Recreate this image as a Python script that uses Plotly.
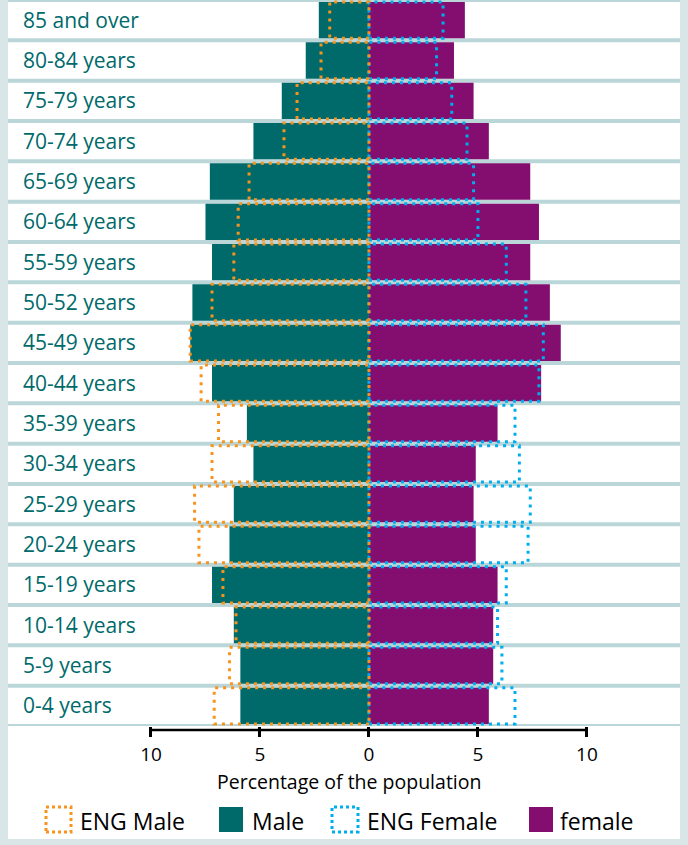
import plotly.graph_objects as go

# age groups, bottom to top
age_groups = ["0-4 years", "5-9 years", "10-14 years", "15-19 years", "20-24 years",
              "25-29 years", "30-34 years", "35-39 years", "40-44 years", "45-49 years",
              "50-52 years", "55-59 years", "60-64 years", "65-69 years", "70-74 years",
              "75-79 years", "80-84 years", "85 and over"]
male = [5.9, 5.9, 6.2, 7.2, 6.4, 6.2, 5.3, 5.6, 7.2, 8.2, 8.1, 7.2, 7.5, 7.3, 5.3, 4.0, 2.9, 2.3]
female = [5.5, 5.7, 5.7, 5.9, 4.9, 4.8, 4.9, 5.9, 7.9, 8.8, 8.3, 7.4, 7.8, 7.4, 5.5, 4.8, 3.9, 4.4]
eng_male = [7.1, 6.4, 6.1, 6.7, 7.8, 8.0, 7.2, 6.9, 7.7, 8.2, 7.2, 6.2, 6.0, 5.5, 3.9, 3.3, 2.2, 1.8]
eng_female = [6.7, 6.1, 5.9, 6.3, 7.3, 7.4, 6.9, 6.7, 7.8, 8.0, 7.2, 6.3, 5.0, 4.8, 4.5, 3.8, 3.1, 3.4]

tick_vals = [-10, -5, 0, 5, 10]
tick_text = ["10", "5", "0", "5", "10"]

TEAL = "#006a6b"
PURPLE = "#830e6f"
ORANGE = "#f7941d"
BLUE = "#00aeef"
GAP = "#bad6d8"
OUTER = "#d8e6e7"
FONT = "Open Sans"

W, H = 688, 845
ML, MR, MT, MB = 8, 8, 0, 119
PW, PH = W - ML - MR, H - MT - MB
X_RANGE = [-16.56, 14.27]
HALF = 0.45


def px_x(p):
    return (p - ML) / PW


def px_y(p):
    return (MT + PH - p) / PH


def outline(values, sign):
    xs, ys = [], []
    for i, v in enumerate(values):
        xs += [0, sign * v, sign * v, 0, 0, None]
        ys += [i - HALF, i - HALF, i + HALF, i + HALF, i - HALF, None]
    return xs, ys


ys = list(range(len(age_groups)))
fig = go.Figure()

fig.add_trace(go.Bar(y=ys, x=[-v for v in male], orientation='h', width=0.9,
                     marker=dict(color=TEAL, line=dict(width=0)), name="Male",
                     customdata=male, hovertemplate="%{customdata}%<extra>Male</extra>"))
fig.add_trace(go.Bar(y=ys, x=female, orientation='h', width=0.9,
                     marker=dict(color=PURPLE, line=dict(width=0)), name="female"))

fx, fy = outline(eng_female, 1)
fig.add_trace(go.Scatter(x=fx, y=fy, mode='lines', name="ENG Female",
                         line=dict(color=BLUE, width=3, dash="3px,5px")))
mx, my = outline(eng_male, -1)
fig.add_trace(go.Scatter(x=mx, y=my, mode='lines', name="ENG Male",
                         line=dict(color=ORANGE, width=3, dash="3px,5px")))

shapes = []
# white panel below the plot area
shapes.append(dict(type='rect', xref='paper', yref='paper', x0=0, x1=1,
                   y0=px_y(839), y1=0, fillcolor='white', line=dict(width=0), layer='below'))
# row separators
for k in range(len(age_groups) + 1):
    shapes.append(dict(type='line', xref='x', yref='y', x0=X_RANGE[0], x1=X_RANGE[1],
                       y0=k - 0.5, y1=k - 0.5, line=dict(color=GAP, width=4), layer='below'))
# axis line between -10 and 10
shapes.append(dict(type='line', xref='x', yref='paper', x0=-10, x1=10,
                   y0=px_y(730), y1=px_y(730), line=dict(color='black', width=2.5)))

# legend drawn by hand (dotted swatches)
legend_items = [
    ("ENG Male", 46, 71, 78, dict(color=ORANGE, width=3, dash='dot'), 'rgba(0,0,0,0)'),
    ("Male", 219, 243, 250, dict(width=0), TEAL),
    ("ENG Female", 332, 358, 365, dict(color=BLUE, width=3, dash='dot'), 'rgba(0,0,0,0)'),
    ("female", 529, 553, 558, dict(width=0), PURPLE),
]
annotations = []
for text, x0, x1, tx, ln, fill in legend_items:
    shapes.append(dict(type='rect', xref='paper', yref='paper', x0=px_x(x0), x1=px_x(x1),
                       y0=px_y(832), y1=px_y(807), line=ln, fillcolor=fill))
    annotations.append(dict(xref='paper', yref='paper', x=px_x(tx), y=px_y(821),
                            xanchor='left', yanchor='middle', text=text, showarrow=False,
                            font=dict(family=FONT, size=23, color='black')))

# axis title
annotations.append(dict(xref='x', yref='paper', x=-0.9, y=px_y(782), xanchor='center',
                        yanchor='middle', text="Percentage of the population", showarrow=False,
                        font=dict(family=FONT, size=19.5, color='black')))

fig.update_layout(
    width=W, height=H, margin=dict(l=ML, r=MR, t=MT, b=MB),
    paper_bgcolor=OUTER, plot_bgcolor='white',
    barmode='overlay', showlegend=False,
    shapes=shapes, annotations=annotations,
    font=dict(family=FONT, color='black'),
)
fig.update_xaxes(range=X_RANGE, tickmode='array', tickvals=tick_vals, ticktext=tick_text,
                 ticks='outside', ticklen=10, tickwidth=2.5, tickcolor='black',
                 showgrid=False, zeroline=False, showline=False,
                 tickfont=dict(family=FONT, size=19, color='black'), ticklabelstandoff=1)
fig.update_yaxes(range=[-0.5, len(age_groups) - 0.5], tickmode='array', tickvals=ys,
                 ticktext=age_groups, ticklabelposition='inside', ticklabelstandoff=12,
                 showgrid=False, zeroline=False, showline=False, ticks='',
                 tickfont=dict(family=FONT, size=21, color=TEAL))

fig.write_html("out.html", config={"displayModeBar": False},
               post_script="document.body.style.margin='0';")
